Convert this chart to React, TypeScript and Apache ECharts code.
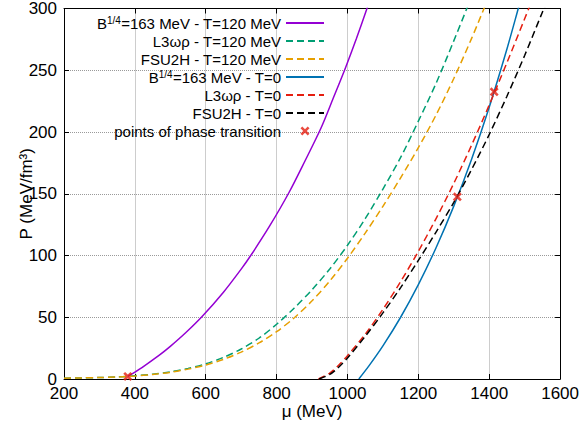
import React, { useEffect, useRef } from "react";
import * as echarts from "echarts";

const FONT = "'Liberation Sans', Arial, sans-serif";

// Axis ranges / ticks
const X_MIN = 200;
const X_MAX = 1600;
const X_STEP = 200;
const Y_MIN = 0;
const Y_MAX = 300;
const Y_STEP = 50;

// Series names
const NAMES = [
  "B1/4=163 MeV - T=120 MeV",
  "L3ωρ - T=120 MeV",
  "FSU2H - T=120 MeV",
  "B1/4=163 MeV - T=0",
  "L3ωρ - T=0",
  "FSU2H - T=0",
  "points of phase transition",
];

// [mu (MeV), P (MeV/fm^3)]
const bagT120: number[][] = [
  [380, 2.1], [420, 9.3], [469, 19.3], [500, 26.4], [544, 37.6], [591, 51],
  [650, 70.3], [700, 89], [727, 100], [780, 123.7], [835, 151], [880, 176.5],
  [925, 203], [960, 227.5], [995, 252.5], [1025, 275.5], [1055, 300], [1065, 308],
];
const l3wrT120: number[][] = [
  [200, 0.7], [250, 0.9], [300, 1.2], [350, 1.7], [380, 2.1], [400, 2.6],
  [450, 3.9], [500, 5.8], [550, 8.6], [600, 12.3], [650, 17.5], [700, 24.3],
  [750, 33], [800, 44.3], [850, 57.5], [900, 72.3], [950, 89.1], [1000, 108.3],
  [1050, 129.8], [1100, 153.8], [1150, 179.4], [1200, 208.8], [1250, 239.4],
  [1300, 273.8], [1350, 309.5],
];
const fsuT120: number[][] = [
  [200, 0.7], [250, 0.9], [300, 1.2], [350, 1.6], [380, 2.0], [400, 2.4],
  [450, 3.6], [500, 5.4], [550, 8], [600, 11.3], [650, 15.9], [700, 21.8],
  [750, 29.2], [800, 38.3], [850, 49.6], [900, 63.3], [950, 79.4], [1000, 97.8],
  [1050, 118.1], [1100, 139.8], [1150, 162.9], [1200, 187.3], [1250, 213.8],
  [1300, 243.3], [1350, 275.6], [1400, 310.3],
];
const bagT0: number[][] = [
  [1032, 0], [1060, 10.4], [1100, 26.8], [1150, 50], [1200, 76.4], [1250, 106.3],
  [1300, 140], [1350, 177.8], [1400, 220.1], [1450, 267.2], [1482, 300], [1490, 308.5],
];
const l3wrT0: number[][] = [
  [918, 0], [950, 4.8], [975, 11.2], [1000, 18.9], [1050, 36.2], [1100, 56.4],
  [1150, 78.9], [1200, 103.4], [1250, 129.9], [1300, 158.4], [1350, 189.2],
  [1400, 221.9], [1450, 256.2], [1500, 291.7], [1520, 306],
];
const fsuT0: number[][] = [
  [920, 0], [950, 3.7], [975, 9.5], [1000, 17], [1050, 34.5], [1100, 53.5],
  [1150, 74], [1200, 96], [1250, 119], [1300, 143], [1350, 169.5], [1400, 198],
  [1450, 229], [1500, 262], [1550, 297], [1560, 304],
];
const transitions: number[][] = [
  [380, 2.1], [1310, 147.5], [1414, 232.5],
];

const COLORS = ["#9400d3", "#009e73", "#e69f00", "#0072b2", "#e51e10", "#000000", "#e51e10"];
const DASHED = [false, true, true, false, true, true];
const LINE_DATA = [bagT120, l3wrT120, fsuT120, bagT0, l3wrT0, fsuT0];

const X_SYMBOL =
  "path://M0,2L2,0L5,3L8,0L10,2L7,5L10,8L8,10L5,7L2,10L0,8L3,5Z";

function legendFormatter(name: string): string {
  if (name.startsWith("B1/4")) {
    return "{n|B}{s|1/4}{n|" + name.slice(4) + "}";
  }
  return "{n|" + name + "}";
}

export default function App() {
  const ref = useRef<HTMLDivElement>(null);

  useEffect(() => {
    if (!ref.current) return;
    const chart = echarts.init(ref.current, undefined, { renderer: "svg" });

    const lineSeries = LINE_DATA.map((d, i) => ({
      type: "line",
      name: NAMES[i],
      data: d,
      symbol: "none",
      showSymbol: false,
      smooth: 0.3,
      clip: true,
      lineStyle: {
        color: COLORS[i],
        width: 1.5,
        type: DASHED[i] ? [7, 4] : "solid",
      },
      itemStyle: { color: COLORS[i] },
      z: 2 + i,
    }));

    const axisCommon = {
      axisLine: { show: true, onZero: false, lineStyle: { color: "#000", width: 1 } },
      axisTick: { show: true, inside: true, length: 5, lineStyle: { color: "#000", width: 1 } },
    };

    chart.setOption({
      animation: false,
      textStyle: { fontFamily: FONT },
      grid: { left: 64, right: 20, top: 7, bottom: 53, containLabel: false },
      legend: {
        orient: "vertical",
        align: "right",
        right: 257,
        top: 15,
        padding: 0,
        itemGap: 2,
        itemWidth: 38,
        itemHeight: 9,
        formatter: legendFormatter,
        textStyle: {
          color: "#000",
          fontFamily: FONT,
          fontSize: 15,
          lineHeight: 16,
          rich: {
            n: { fontSize: 15, lineHeight: 16, fontFamily: FONT, color: "#000" },
            s: { fontSize: 10, lineHeight: 16, fontFamily: FONT, color: "#000", verticalAlign: "top", padding: [0, 0, 6, 0] },
          },
        },
        data: NAMES.map((n, i) =>
          i === 6
            ? { name: n, icon: X_SYMBOL }
            : { name: n, itemStyle: { opacity: 0 } }
        ),
      },
      xAxis: [
        {
          type: "value",
          min: X_MIN,
          max: X_MAX,
          interval: X_STEP,
          position: "bottom",
          ...axisCommon,
          axisLabel: {
            color: "#000",
            fontSize: 17,
            fontFamily: FONT,
            margin: 6,
            formatter: (v: number) => String(v),
          },
          splitLine: { show: true, lineStyle: { color: "#9a9a9a", width: 1, type: [1, 1] } },
          name: "μ (MeV)",
          nameLocation: "middle",
          nameGap: 24,
          nameMoveOverlap: false,
          nameTextStyle: { color: "#000", fontSize: 17, fontFamily: FONT },
        },
        {
          type: "value",
          min: X_MIN,
          max: X_MAX,
          interval: X_STEP,
          position: "top",
          ...axisCommon,
          axisLabel: { show: false },
          splitLine: { show: false },
        },
      ],
      yAxis: [
        {
          type: "value",
          min: Y_MIN,
          max: Y_MAX,
          interval: Y_STEP,
          position: "left",
          ...axisCommon,
          axisLabel: {
            color: "#000",
            fontSize: 17,
            fontFamily: FONT,
            margin: 7,
            formatter: (v: number) => String(v),
          },
          splitLine: { show: true, lineStyle: { color: "#9a9a9a", width: 1, type: [1, 1] } },
          name: "P (MeV/fm³)",
          nameLocation: "middle",
          nameRotate: 90,
          nameGap: 29,
          nameMoveOverlap: false,
          nameTextStyle: { color: "#000", fontSize: 17, fontFamily: FONT },
        },
        {
          type: "value",
          min: Y_MIN,
          max: Y_MAX,
          interval: Y_STEP,
          position: "right",
          ...axisCommon,
          axisLabel: { show: false },
          splitLine: { show: false },
        },
      ],
      series: [
        ...lineSeries,
        {
          type: "scatter",
          name: NAMES[6],
          data: transitions,
          symbol: X_SYMBOL,
          symbolSize: 9,
          itemStyle: { color: COLORS[6] },
          z: 10,
        },
      ],
    });

    return () => chart.dispose();
  }, []);

  return (
    <div
      ref={ref}
      style={{ position: "absolute", left: 0, top: 0, width: 582, height: 432, background: "#fff" }}
    />
  );
}
